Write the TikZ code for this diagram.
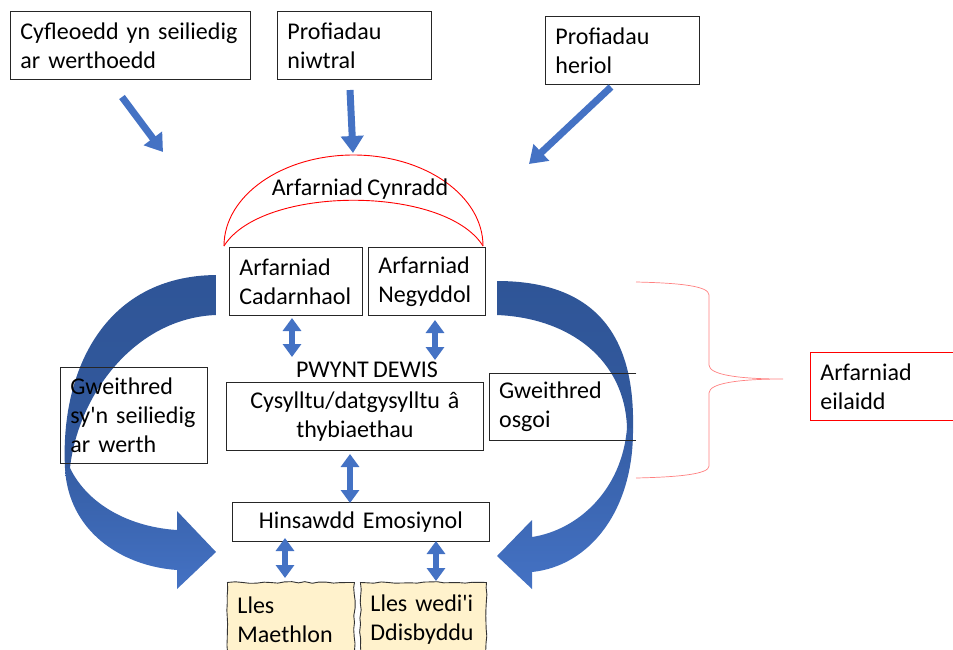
\documentclass[tikz,border=0pt]{standalone}
\usepackage{fontspec}
\setmainfont{Carlito}[Ligatures=TeXOff, WordSpace=0.8]
\usetikzlibrary{arrows.meta,decorations.pathmorphing}
\definecolor{arrblue}{HTML}{4472C4}
\definecolor{darkblue}{HTML}{2F5597}
\definecolor{lightred}{HTML}{FF8080}
\definecolor{paleyellow}{HTML}{FFF2CC}
\begin{document}
\begin{tikzpicture}[x=1pt,y=-1pt,
  every node/.style={font=\fontsize{24}{29}\selectfont},
  box/.style={draw=black!85, line width=0.9pt, anchor=north west, align=left, inner xsep=10pt, inner ysep=0pt},
  cbox/.style={box, align=center},
  openbox/.style={anchor=north west, align=left, inner xsep=10pt, inner ysep=0pt},
  lles/.style={box, fill=paleyellow, draw=black!80, decorate, decoration={random steps, segment length=7pt, amplitude=0.8pt}},
  bluearrow/.style={draw=arrblue, line width=7pt, -{Triangle[width=22pt,length=17pt]}},
  dbl/.style={draw=arrblue, line width=6pt, {Triangle[width=18pt,length=13pt]}-{Triangle[width=18pt,length=13pt]}},
  redline/.style={draw=red, line width=0.9pt},
  bracestyle/.style={draw=lightred, line width=0.7pt}
]
\pgfmathsetseed{7}
\useasboundingbox (0,0) rectangle (953,649);

% curved arrows
\shade[top color=darkblue!70!arrblue, bottom color=arrblue] (65,468) .. controls (68,530) and (120,566) .. (177,570) -- (177,589) -- (216,552) -- (177,511) -- (177,530) .. controls (130,527) and (88,505) .. (70,468) -- cycle;
\shade[top color=darkblue, bottom color=darkblue!85!arrblue] (216,275) .. controls (105,276) and (60,370) .. (65,468) -- (70,468) .. controls (78,395) and (135,318) .. (216,315) -- cycle;
\shade[top color=darkblue!70!arrblue, bottom color=arrblue] (633,428) .. controls (634,510) and (590,566) .. (532,572) -- (532,589) -- (497,556) -- (532,520) -- (532,537) .. controls (578,530) and (622,490) .. (627,428) -- cycle;
\shade[top color=darkblue, bottom color=darkblue!85!arrblue] (497,281) .. controls (595,281) and (635,335) .. (633,428) -- (627,428) .. controls (625,360) and (570,318) .. (497,315) -- cycle;

% top boxes
\node[box, minimum width=240pt, minimum height=68pt, text width=220pt] (cyf) at (10,11) {Cyfleoedd yn seiliedig\\ar werthoedd};
\node[box, minimum width=154pt, minimum height=68pt, text width=134pt] (niw) at (277,11) {Profiadau\\niwtral};
\node[box, minimum width=154pt, minimum height=68pt, text width=134pt] (her) at (545,16) {Profiadau\\heriol};

\coordinate (a1s) at (122,97);  \coordinate (a1e) at (163,152);
\coordinate (a2s) at (350,90);  \coordinate (a2e) at (353,153);
\coordinate (a3s) at (611,87);  \coordinate (a3e) at (529,164);
\draw[bluearrow] (a1s) -- (a1e);
\draw[bluearrow] (a2s) -- (a2e);
\draw[bluearrow] (a3s) -- (a3e);

% primary appraisal arc
\draw[redline] (224,246) .. controls (224,195.7) and (282,155) .. (353.5,155) .. controls (425,155) and (483,195.7) .. (483,246);
\draw[redline] (224,246) .. controls (262,185) and (445,185) .. (483,246);
\node (cyn) at (360,189) {Arfarniad Cynradd};

\node[box, minimum width=133pt, minimum height=68pt, text width=113pt] (cad) at (229,247) {Arfarniad\\Cadarnhaol};
\node[box, minimum width=117pt, minimum height=68pt, text width=97pt] (neg) at (368,247) {Arfarniad\\Negyddol};

\node (pwy) at (367,370) {PWYNT DEWIS};
\node[cbox, minimum width=257pt, minimum height=68pt, text width=237pt] (cys) at (226,382) {Cysylltu/datgysylltu â\\thybiaethau};

\node[box, minimum width=147pt, minimum height=96pt, text width=127pt] (gws) at (60,367) {Gweithred\\sy'n seiliedig\\ar werth};
\node[openbox, minimum width=147pt, minimum height=67pt, text width=127pt] (gwo) at (489,373) {Gweithred\\osgoi};
\draw[draw=black!85, line width=0.9pt] (gwo.north east) -- (gwo.north west) -- (gwo.south west) -- (gwo.south east);

\node[cbox, minimum width=257pt, minimum height=39pt, text width=237pt] (hin) at (232,502) {Hinsawdd Emosiynol};

\node[lles, minimum width=127pt, minimum height=75pt, text width=107pt] (lm) at (227,582) {Lles\\Maethlon};
\node[lles, minimum width=126pt, minimum height=75pt, text width=106pt] (ld) at (360,582) {Lles wedi'i\\Ddisbyddu};

% double arrows
\coordinate (d1a) at (292,318); \coordinate (d1b) at (292,357);
\coordinate (d2a) at (435,320); \coordinate (d2b) at (435,360);
\coordinate (d3a) at (350,454); \coordinate (d3b) at (350,503);
\coordinate (d4a) at (285,538); \coordinate (d4b) at (285,578);
\coordinate (d5a) at (436,541); \coordinate (d5b) at (436,581);
\draw[dbl] (d1a) -- (d1b);
\draw[dbl] (d2a) -- (d2b);
\draw[dbl] (d3a) -- (d3b);
\draw[dbl] (d4a) -- (d4b);
\draw[dbl] (d5a) -- (d5b);

% secondary appraisal brace
\draw[bracestyle] (636,282) .. controls (680,283) and (709,286) .. (709,295) -- (709,365) .. controls (709,375) and (740,379) .. (783,379) .. controls (740,379) and (709,383) .. (709,393) -- (709,466) .. controls (709,474) and (680,477) .. (636,478);
\node[box, draw=red, minimum width=150pt, minimum height=68pt, text width=130pt] (eil) at (810,352) {Arfarniad\\eilaidd};
\end{tikzpicture}
\end{document}
